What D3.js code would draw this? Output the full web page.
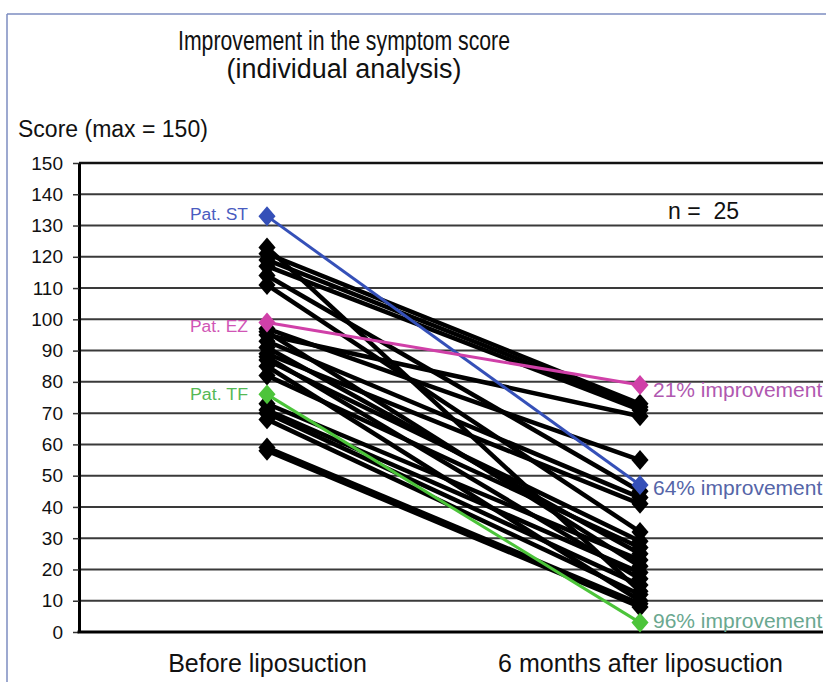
<!DOCTYPE html>
<html><head><meta charset="utf-8">
<script src="https://cdn.jsdelivr.net/npm/d3@7"></script>
<style>body{margin:0;background:#fff}svg{display:block}text{font-family:"Liberation Sans",Arial,sans-serif}</style>
</head><body>
<script>
const categories = ["Before liposuction", "6 months after liposuction"];
const yTickValues = [0,10,20,30,40,50,60,70,80,90,100,110,120,130,140,150];
// black patients (22)
const blackBefore = [123,121,119,117,114,111,97,96,95,93,91,89,88,87,85,82,73,71,70,68,59,58];
const blackAfter  = [13, 73, 72, 71, 45, 32, 55,21,69,43,25,41,17,29,10,27,23,19,15,12,9, 8];
// highlighted patients
const hlNames   = ["Pat. ST","Pat. EZ","Pat. TF"];
const hlBefore  = [133, 99, 76];
const hlAfter   = [47, 79, 3];
const hlLabels  = ["64% improvement","21% improvement","96% improvement"];
const hlColors  = ["#3550b8","#d040a8","#4cc43a"];
const hlText    = ["#4a5cc0","#d055b5","#55b855"];
const hlRight   = ["#5565a8","#b058b0","#6aa890"];
const nameDy    = [4,10,6];
const rightDy   = [10,12,5];

const W=826,H=682;
const svg=d3.select("body").append("svg").attr("width",W).attr("height",H);
// frame
svg.append("line").attr("x1",7).attr("x2",W).attr("y1",14).attr("y2",14).attr("stroke","#7d8cc0").attr("stroke-width",1.5);
svg.append("line").attr("x1",7).attr("x2",7).attr("y1",14).attr("y2",H).attr("stroke","#7d8cc0").attr("stroke-width",1.5);

const x=d3.scalePoint().domain(categories).range([267,640]);
const y=d3.scaleLinear().domain([0,150]).range([632,163]);
const left=79,right=823;

// gridlines
svg.append("g").selectAll("line").data(yTickValues.filter(v=>v>0)).join("line")
  .attr("x1",left).attr("x2",right).attr("y1",d=>y(d)).attr("y2",d=>y(d))
  .attr("stroke",d=>d===150?"#111":"#3a3a3a").attr("stroke-width",d=>d===150?2.5:2);

// y axis
const yAxis=d3.axisLeft(y).tickValues(yTickValues).tickSize(6).tickPadding(10).tickSizeOuter(0);
const gy=svg.append("g").attr("transform",`translate(${left},0)`).call(yAxis);
gy.select(".domain").attr("stroke","#000").attr("stroke-width",3);
gy.selectAll(".tick line").attr("stroke","#333").attr("stroke-width",1.5);
gy.selectAll(".tick text").attr("font-size",19).attr("fill","#111").attr("font-family","Liberation Sans, Arial, sans-serif");
// x axis
const xAxis=d3.axisBottom(x).tickSize(0).tickPadding(22);
const gx=svg.append("g").attr("transform",`translate(0,632)`).call(xAxis);
gx.select(".domain").remove();
svg.append("line").attr("x1",left-1.5).attr("x2",right).attr("y1",632).attr("y2",632).attr("stroke","#000").attr("stroke-width",3);
gx.selectAll(".tick text").attr("font-size",25).attr("fill","#111").attr("font-family","Liberation Sans, Arial, sans-serif");

const diamond=d3.symbol().type(d3.symbolDiamond2).size(230);
const x0=x(categories[0]),x1=x(categories[1]);
const ds="scale(0.9,1.05)";

// black lines
svg.append("g").selectAll("line").data(blackBefore).join("line")
  .attr("x1",x0).attr("x2",x1).attr("y1",d=>y(d)).attr("y2",(d,i)=>y(blackAfter[i]))
  .attr("stroke","#000").attr("stroke-width",4.5);
const bd=svg.append("g").attr("fill","#000");
bd.selectAll("path.b").data(blackBefore).join("path").attr("class","b").attr("d",diamond)
  .attr("transform",d=>`translate(${x0},${y(d)}) ${ds}`);
bd.selectAll("path.a").data(blackAfter).join("path").attr("class","a").attr("d",diamond)
  .attr("transform",d=>`translate(${x1},${y(d)}) ${ds}`);

// highlighted
const hg=svg.append("g");
hlBefore.forEach((b,i)=>{
  hg.append("line").attr("x1",x0).attr("x2",x1).attr("y1",y(b)).attr("y2",y(hlAfter[i]))
    .attr("stroke",hlColors[i]).attr("stroke-width",3);
});
hlBefore.forEach((b,i)=>{
  hg.append("path").attr("d",diamond).attr("fill",hlColors[i]).attr("transform",`translate(${x0},${y(b)}) ${ds}`);
  hg.append("path").attr("d",diamond).attr("fill",hlColors[i]).attr("transform",`translate(${x1},${y(hlAfter[i])}) ${ds}`);
  hg.append("text").attr("x",x0-19).attr("y",y(b)+nameDy[i]).attr("text-anchor","end").attr("font-size",16)
    .attr("textLength",58).attr("lengthAdjust","spacingAndGlyphs")
    .attr("fill",hlText[i]).text(hlNames[i]);
  hg.append("text").attr("x",x1+13).attr("y",y(hlAfter[i])+rightDy[i]).attr("font-size",21)
    .attr("fill",hlRight[i]).text(hlLabels[i]);
});

// titles
svg.append("text").attr("x",344).attr("y",50).attr("text-anchor","middle").attr("font-size",27)
  .attr("textLength",332).attr("lengthAdjust","spacingAndGlyphs").attr("fill","#111").text("Improvement in the symptom score");
svg.append("text").attr("x",344).attr("y",78).attr("text-anchor","middle").attr("font-size",27)
  .attr("textLength",235).attr("lengthAdjust","spacingAndGlyphs").attr("fill","#111").text("(individual analysis)");
svg.append("text").attr("x",18).attr("y",137).attr("font-size",23).attr("fill","#111").text("Score (max = 150)");
svg.append("text").attr("x",668).attr("y",219).attr("font-size",23).attr("fill","#111").attr("xml:space","preserve").text("n =  25");
</script>
</body></html>
